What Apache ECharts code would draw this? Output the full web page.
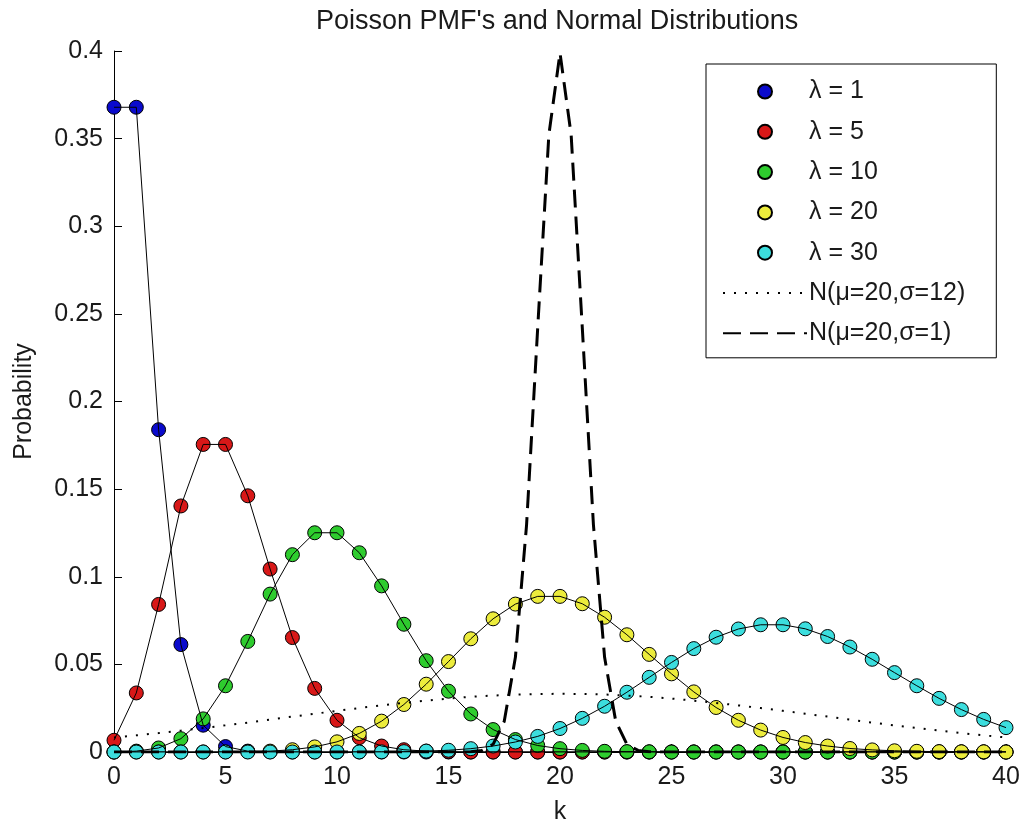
<!DOCTYPE html>
<html>
<head>
<meta charset="utf-8">
<script src="https://cdn.jsdelivr.net/npm/echarts@6/dist/echarts.min.js"></script>
<style>html,body{margin:0;padding:0;background:#fff;}#chart{width:1020px;height:822px;}</style>
</head>
<body>
<div id="chart"></div>
<script>
// ---- data ----
const kValues = [0,1,2,3,4,5,6,7,8,9,10,11,12,13,14,15,16,17,18,19,20,21,22,23,24,25,26,27,28,29,30,31,32,33,34,35,36,37,38,39,40];
const lambda1 = [0.3679,0.3679,0.1839,0.0613,0.0153,0.0031,0.0005,0.0001,0,0,0,0,0,0,0,0,0,0,0,0,0,0,0,0,0,0,0,0,0,0,0,0,0,0,0,0,0,0,0,0,0];
const lambda5 = [0.0067,0.0337,0.0842,0.1404,0.1755,0.1755,0.1462,0.1044,0.0653,0.0363,0.0181,0.0082,0.0034,0.0013,0.0005,0.0002,0,0,0,0,0,0,0,0,0,0,0,0,0,0,0,0,0,0,0,0,0,0,0,0,0];
const lambda10 = [0,0.0005,0.0023,0.0076,0.0189,0.0378,0.0631,0.0901,0.1126,0.1251,0.1251,0.1137,0.0948,0.0729,0.0521,0.0347,0.0217,0.0128,0.0071,0.0037,0.0019,0.0009,0.0004,0.0002,0.0001,0,0,0,0,0,0,0,0,0,0,0,0,0,0,0,0];
const lambda20 = [0,0,0,0,0.00001,0.00005,0.0002,0.0005,0.0013,0.0029,0.0058,0.0106,0.0176,0.0271,0.0387,0.0516,0.0646,0.0760,0.0844,0.0888,0.0888,0.0846,0.0769,0.0669,0.0557,0.0446,0.0343,0.0254,0.0181,0.0125,0.0083,0.0054,0.0034,0.0020,0.0012,0.0007,0.0004,0.0002,0.0001,0.0001,0];
const lambda30 = [0,0,0,0,0,0,0,0,0,0,0.00001,0.00004,0.0001,0.0002,0.0005,0.0010,0.0019,0.0034,0.0057,0.0089,0.0134,0.0192,0.0261,0.0341,0.0426,0.0511,0.0590,0.0655,0.0702,0.0726,0.0726,0.0703,0.0659,0.0599,0.0529,0.0453,0.0378,0.0306,0.0242,0.0186,0.0139];
const normalWide = [0.0083,0.0095,0.0108,0.0122,0.0137,0.0152,0.0168,0.0185,0.0202,0.0218,0.0235,0.0251,0.0266,0.0280,0.0293,0.0305,0.0315,0.0322,0.0328,0.0331,0.0332,0.0331,0.0328,0.0322,0.0315,0.0305,0.0293,0.0280,0.0266,0.0251,0.0235,0.0218,0.0202,0.0185,0.0168,0.0152,0.0137,0.0122,0.0108,0.0095,0.0083];
const narrowX = [0,15,15.5,16,16.5,17,17.5,18,18.5,19,19.5,20,20.5,21,21.5,22,22.5,23,23.5,24,24.5,25,40];
const normalNarrow = [0,0,0,0.0001,0.0009,0.0044,0.0175,0.0540,0.1295,0.2420,0.3521,0.3989,0.3521,0.2420,0.1295,0.0540,0.0175,0.0044,0.0009,0.0001,0,0,0];

const poissonNames = ['λ = 1','λ = 5','λ = 10','λ = 20','λ = 30'];
const poissonData = [lambda1, lambda5, lambda10, lambda20, lambda30];
const poissonColors = ['#0a0acc','#d81818','#2ecc2e','#ecec3c','#3cdede'];
const wideName = 'N(μ=20,σ=12)';
const narrowName = 'N(μ=20,σ=1)';
const xTicks = {min:0, max:40, interval:5};
const yTicks = {min:0, max:0.4, interval:0.05};

const FONT = '"Liberation Sans", Arial, sans-serif';
const TXT = '#1a1a1a';

const pairs = (xs, ys) => xs.map((x, i) => [x, ys[i]]);

const series = [];
poissonNames.forEach((name, i) => {
  const d = pairs(kValues, poissonData[i]);
  series.push({
    name: name, type: 'scatter', data: d, symbol: 'circle', symbolSize: 14,
    itemStyle: {color: poissonColors[i], borderColor: '#000', borderWidth: 1, opacity: 1},
    emphasis: {disabled: true}, animation: false
  });
  series.push({
    name: name + ' line', type: 'line', data: d, symbol: 'none',
    lineStyle: {color: '#000', width: 1}, emphasis: {disabled: true}, animation: false
  });
});
series.push({
  name: wideName, type: 'line', data: pairs(kValues, normalWide), symbol: 'none',
  itemStyle: {color: '#000'},
  lineStyle: {color: '#000', width: 2, type: [2, 9]}, emphasis: {disabled: true}, animation: false
});
series.push({
  name: narrowName, type: 'line', data: pairs(narrowX, normalNarrow), symbol: 'none',
  itemStyle: {color: '#000'},
  lineStyle: {color: '#000', width: 3, type: [18, 9]}, emphasis: {disabled: true}, animation: false
});

const hiddenSymbol = {color: 'rgba(0,0,0,0)', borderColor: 'rgba(0,0,0,0)', borderWidth: 0, opacity: 0};

const chart = echarts.init(document.getElementById('chart'), null, {renderer: 'canvas'});
chart.setOption({
  backgroundColor: '#fff',
  animation: false,
  title: {
    text: "Poisson PMF's and Normal Distributions",
    left: 311, top: 3,
    textStyle: {fontFamily: FONT, fontSize: 27, fontWeight: 'normal', color: TXT}
  },
  grid: {left: 114, right: 14, top: 51, bottom: 70, containLabel: false, outerBoundsMode: 'none'},
  legend: {
    orient: 'vertical', left: 706, top: 64,
    data: poissonNames.map(n => ({name: n, icon: 'circle'})).concat([
      {name: wideName, itemStyle: hiddenSymbol},
      {name: narrowName, itemStyle: hiddenSymbol}
    ]),
    itemWidth: 84, itemHeight: 14, itemGap: 15.3,
    padding: [15, 31, 12, 16],
    borderColor: '#000', borderWidth: 1, backgroundColor: '#fff',
    textStyle: {fontFamily: FONT, fontSize: 25, color: TXT, padding: [0, 0, 0, -3]},
    selectedMode: false
  },
  xAxis: {
    type: 'value', min: xTicks.min, max: xTicks.max, interval: xTicks.interval,
    name: 'k', nameLocation: 'middle', nameGap: 48,
    nameTextStyle: {fontFamily: FONT, fontSize: 25, color: TXT},
    axisLine: {lineStyle: {color: '#000', width: 1}},
    axisTick: {inside: true, length: 8, lineStyle: {color: '#000'}},
    axisLabel: {fontFamily: FONT, fontSize: 25, color: TXT, margin: 13},
    splitLine: {show: false}
  },
  yAxis: {
    type: 'value', min: yTicks.min, max: yTicks.max, interval: yTicks.interval,
    name: 'Probability', nameLocation: 'middle', nameGap: 77, nameRotate: 90,
    nameTextStyle: {fontFamily: FONT, fontSize: 25, color: TXT},
    axisLine: {show: true, lineStyle: {color: '#000', width: 1}},
    axisTick: {show: true, inside: true, length: 8, lineStyle: {color: '#000'}},
    axisLabel: {fontFamily: FONT, fontSize: 25, color: TXT, margin: 11},
    splitLine: {show: false}
  },
  series: series
});
</script>
</body>
</html>
